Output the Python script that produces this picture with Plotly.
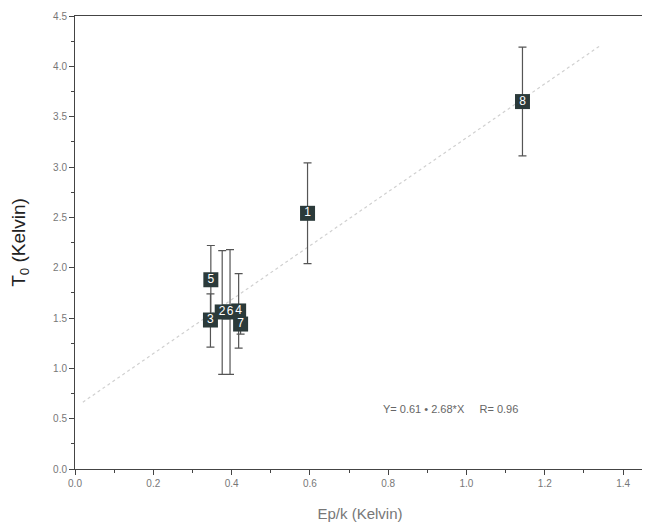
import plotly.graph_objects as go

labels = ["1", "2", "3", "4", "5", "6", "7", "8"]
ep_k = [0.594, 0.376, 0.346, 0.418, 0.347, 0.396, 0.423, 1.143]
t0 = [2.54, 1.56, 1.48, 1.57, 1.88, 1.56, 1.44, 3.65]
t0_err_plus = [0.50, 0.61, 0.26, 0.37, 0.34, 0.62, 0.10, 0.54]
t0_err_minus = [0.50, 0.62, 0.27, 0.37, 0.34, 0.62, 0.10, 0.54]

fit_a = 0.61
fit_b = 2.68
fit_x = [0.02, 1.34]
fit_y = [fit_a + fit_b * v for v in fit_x]

x_ticks = [0.0, 0.2, 0.4, 0.6, 0.8, 1.0, 1.2, 1.4]
y_ticks = [0.0, 0.5, 1.0, 1.5, 2.0, 2.5, 3.0, 3.5, 4.0, 4.5]

fig = go.Figure()
fig.add_trace(go.Scatter(
    x=fit_x, y=fit_y, mode="lines",
    line=dict(color="#d0d0d0", width=1.2, dash="dot"),
    showlegend=False, hoverinfo="skip"))
fig.add_trace(go.Scatter(
    x=ep_k, y=t0, mode="markers+text", text=labels,
    textposition="middle center",
    textfont=dict(color="white", size=12, family="Liberation Sans"),
    marker=dict(symbol="square", size=15, color="#2b3a3a",
                line=dict(color="#2b3a3a", width=0)),
    error_y=dict(type="data", symmetric=False, array=t0_err_plus,
                 arrayminus=t0_err_minus, color="#555555",
                 thickness=1.2, width=4),
    showlegend=False))

fig.add_annotation(x=0.96, y=0.6, xref="x", yref="y",
                   text="Y= 0.61 • 2.68*X&nbsp;&nbsp;&nbsp;&nbsp;&nbsp;R= 0.96",
                   showarrow=False,
                   font=dict(size=11, color="#666666", family="Liberation Sans"))

axis_common = dict(showgrid=False, zeroline=False, showline=True,
                   linecolor="#444444", linewidth=1, mirror=True,
                   ticks="outside", ticklen=5, tickcolor="#444444",
                   automargin=False,
                   tickfont=dict(size=10, color="#777777", family="Liberation Sans"),
                   minor=dict(ticks="outside", ticklen=3, tickcolor="#444444"))

fig.update_xaxes(range=[0, 1.456], tickvals=x_ticks,
                 ticktext=[f"{v:.1f}" for v in x_ticks],
                 title=dict(text="Ep/k (Kelvin)", standoff=20,
                            font=dict(size=15, color="#777777", family="Liberation Sans")),
                 **axis_common)
fig.update_xaxes(minor=dict(tickvals=[0.1, 0.3, 0.5, 0.7, 0.9, 1.1, 1.3]))
fig.update_yaxes(range=[0, 4.5], tickvals=y_ticks,
                 ticktext=[f"{v:.1f}" for v in y_ticks],
                 title=dict(text="T<sub>0</sub> (Kelvin)", standoff=22,
                            font=dict(size=19, color="#222222", family="Liberation Sans")),
                 **axis_common)
fig.update_yaxes(minor=dict(tickvals=[0.25, 0.75, 1.25, 1.75, 2.25, 2.75, 3.25, 3.75, 4.25]))

fig.update_layout(width=650, height=528,
                  margin=dict(l=67, r=13, t=8, b=67),
                  paper_bgcolor="white", plot_bgcolor="white")

fig.write_html("out.html")
